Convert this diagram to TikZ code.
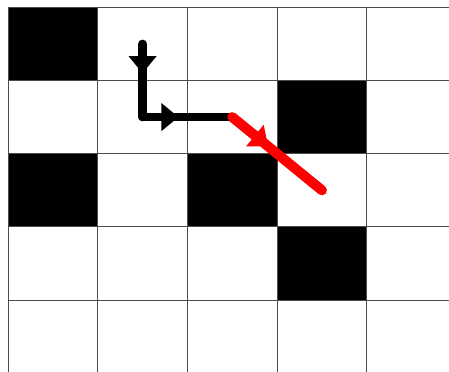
\documentclass[tikz,border=0pt]{standalone}
\usetikzlibrary{arrows.meta,decorations.markings}
\begin{document}
\begin{tikzpicture}[x=89.7pt, y=-73.2pt,
  cell/.style={fill=black},
  gridline/.style={draw=black!70, line width=0.9pt},
  walk/.style={line width=8.5pt, line cap=round, line join=round, postaction={decorate},
    decoration={markings, mark=at position 0.4 with {\arrow{Triangle[length=17pt, width=28pt, line width=0pt]}}}}]
\useasboundingbox (-0.0892,-0.0997) rectangle (4.9164,4.9822);
\clip (-0.0892,-0.0997) rectangle (4.9164,4.9822);
\fill[white] (-0.0892,-0.0997) rectangle (4.9164,4.9822);
% black cells
\foreach \c/\r in {0/0, 3/1, 0/2, 2/2, 3/3}
  \fill[cell] (\c,\r) rectangle ++(1,1);
% grid
\foreach \i in {0,...,6} {
  \draw[gridline] (\i,0) -- (\i,6);
  \draw[gridline] (0,\i) -- (6,\i);
}
% cell centres of the walk
\coordinate (start) at (1.5,0.5);
\coordinate (turn) at (1.5,1.5);
\coordinate (mid) at (2.5,1.5);
\coordinate (goal) at (3.5,2.5);
\draw[walk] (start) -- (turn);
\draw[walk] (turn) -- (mid);
\draw[walk, red, line width=10pt] (mid) -- (goal);
\end{tikzpicture}
\end{document}
